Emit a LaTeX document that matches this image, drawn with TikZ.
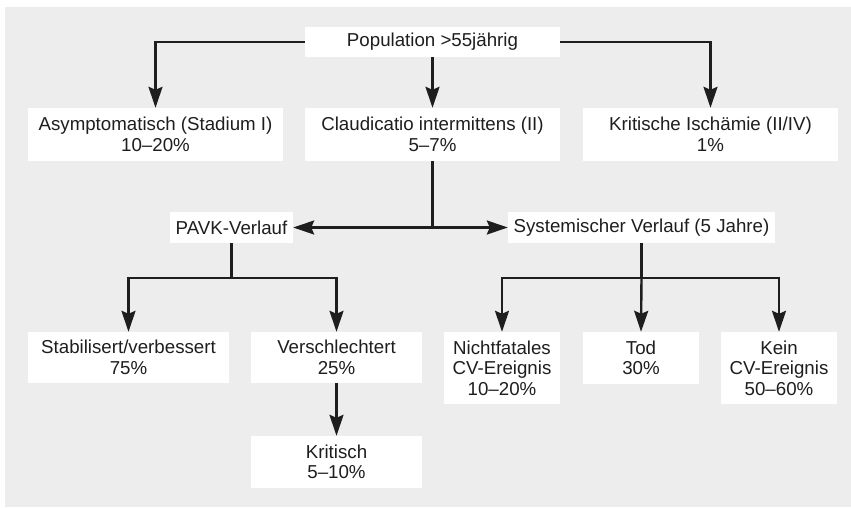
\documentclass[tikz,border=0pt]{standalone}
\usepackage{fontspec}
\setmainfont{Liberation Sans}
\usetikzlibrary{arrows.meta}
\definecolor{bggray}{RGB}{237,237,237}
\definecolor{ink}{RGB}{30,30,30}
\tikzset{
  box/.style={fill=white, draw=none, inner sep=0pt, align=center, text=ink,
    font=\fontsize{18.7}{20.5}\selectfont},
  conn/.style={draw=ink, line width=2.4pt},
  arr/.style={conn, -{Stealth[length=21pt, width=14pt, inset=3pt]}},
}
\begin{document}
\begin{tikzpicture}[x=1pt, y=-1pt]
\useasboundingbox (0,0) rectangle (851,507);
\fill[white] (0,0) rectangle (851,507);
\fill[bggray] (5,7) rectangle (851,507);

\node[box, minimum width=255pt, minimum height=30pt] (pop) at (432.5,42) {Population >55jährig};
\node[box, minimum width=255pt, minimum height=53pt] (asym) at (155.5,134.5) {Asymptomatisch (Stadium I)\\10–20\%};
\node[box, minimum width=255pt, minimum height=53pt] (claud) at (432.5,134.5) {Claudicatio intermittens (II)\\5–7\%};
\node[box, minimum width=255pt, minimum height=53pt] (krit) at (710.5,134.5) {Kritische Ischämie (II/IV)\\1\%};
\node[box, minimum width=123pt, minimum height=31pt] (pavk) at (231.5,227.5) {PAVK-Verlauf};
\node[box, minimum width=267pt, minimum height=31pt] (sys) at (641.5,227.5) {Systemischer Verlauf (5 Jahre)};
\node[box, minimum width=201pt, minimum height=51pt] (stab) at (128.5,357.5) {Stabilisert/verbessert\\75\%};
\node[box, minimum width=171pt, minimum height=51pt] (versch) at (336.5,357.5) {Verschlechtert\\25\%};
\node[box, minimum width=171pt, minimum height=52pt] (kritisch) at (336.5,462) {Kritisch\\5–10\%};
\node[box, minimum width=116pt, minimum height=72pt] (nicht) at (502,368) {Nichtfatales\\CV-Ereignis\\10–20\%};
\node[box, minimum width=116pt, minimum height=52pt] (tod) at (641,358) {Tod\\30\%};
\node[box, minimum width=116pt, minimum height=72pt] (kein) at (779,368) {Kein\\CV-Ereignis\\50–60\%};

\coordinate (split) at (claud.south |- pavk.east);

\draw[arr] (pop.west) -| (asym.north);
\draw[arr] (pop.east) -| (krit.north);
\draw[arr] (pop.south) -- (claud.north);

\draw[conn] (claud.south) -- (split);
\draw[arr] (split) -- (pavk.east);
\draw[arr] (split) -- (sys.west);

\draw[conn] (pavk.south) -- ++(0,35) coordinate (pj);
\draw[arr] (pj) -| (stab.north);
\draw[arr] (pj) -| (versch.north);
\draw[arr] (versch.south) -- (kritisch.north);

\draw[conn] (sys.south) -- ++(0,35) coordinate (sj);
\draw[arr] (sj) -| (nicht.north);
\draw[arr] (sj) -- (tod.north);
\draw[arr] (sj) -| (kein.north);
\end{tikzpicture}
\end{document}
